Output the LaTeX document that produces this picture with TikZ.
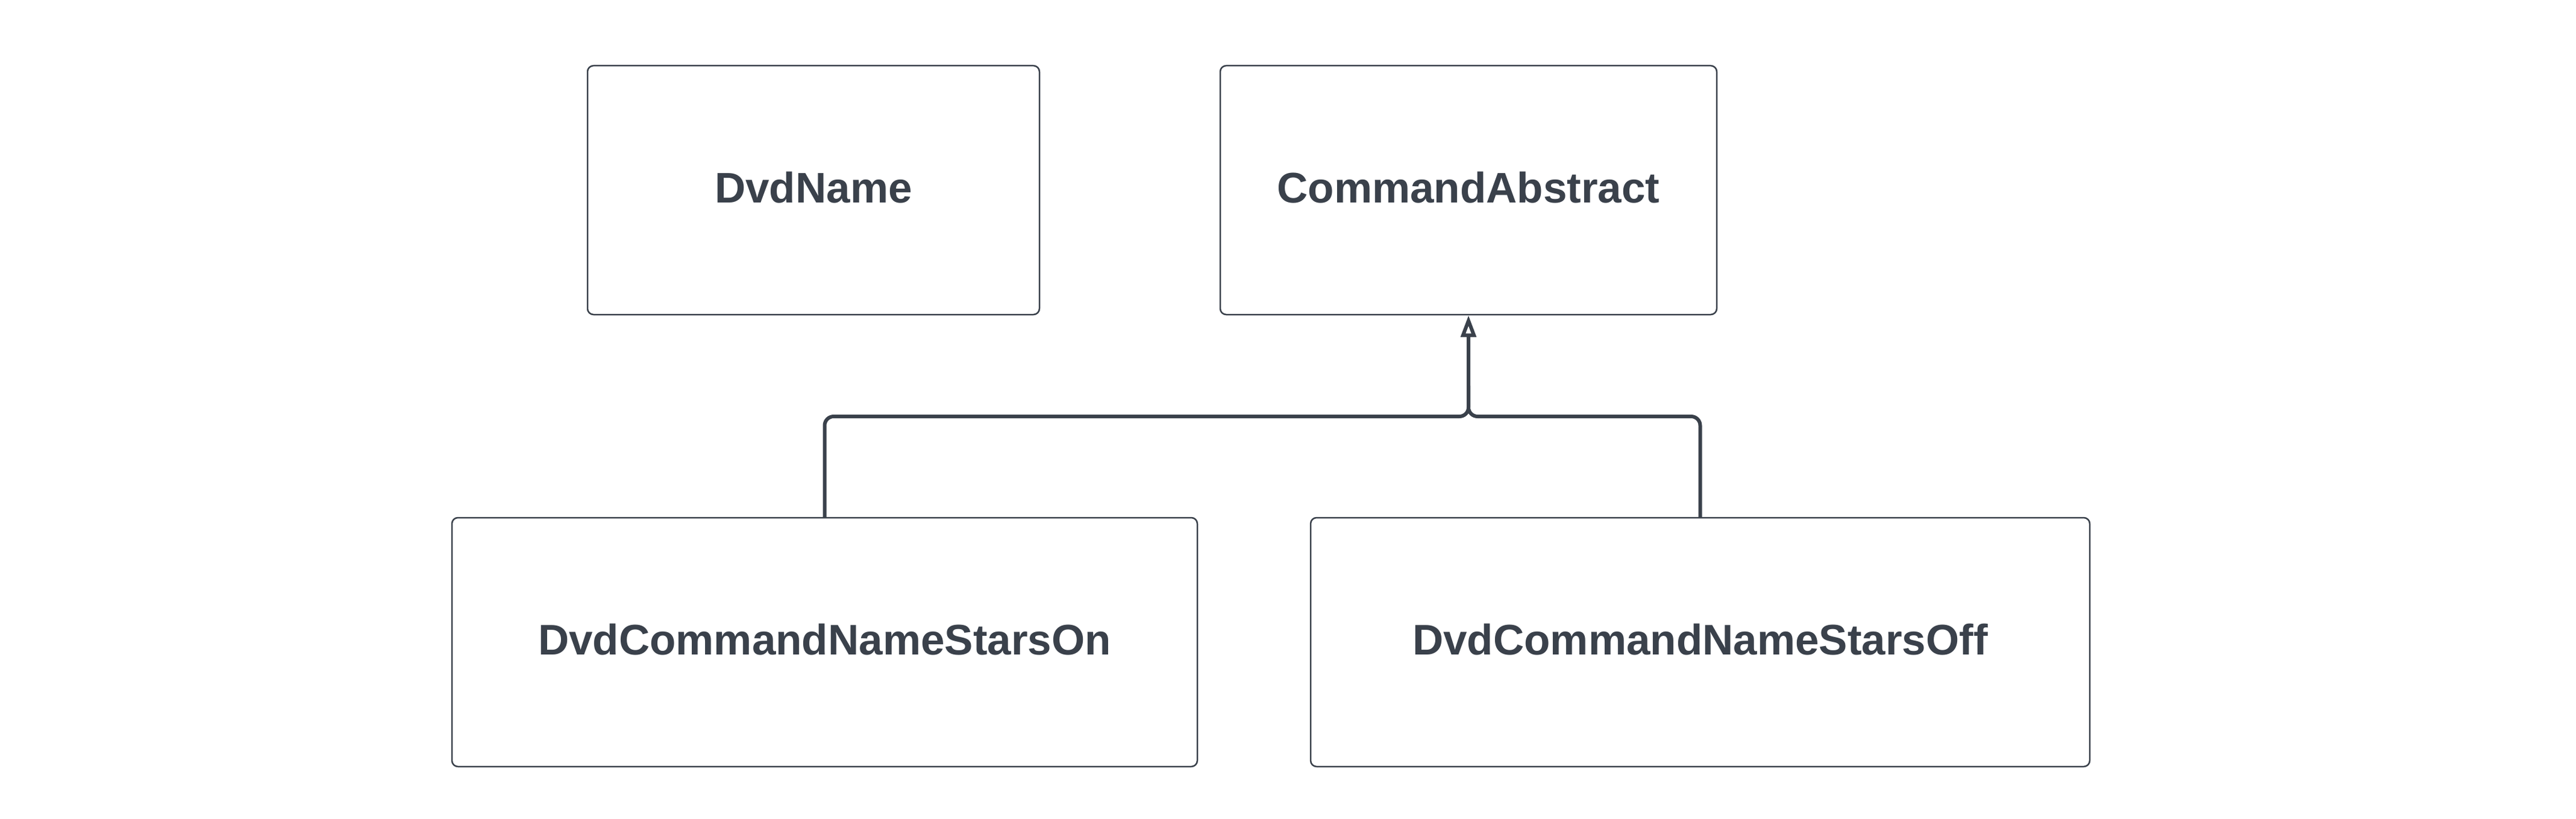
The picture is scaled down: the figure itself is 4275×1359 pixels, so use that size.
\documentclass[tikz,border=0pt]{standalone}
\usepackage{fontspec}
\setmainfont{Liberation Sans}
\usetikzlibrary{arrows.meta}
\definecolor{ink}{RGB}{58,65,75}
\begin{document}
\begin{tikzpicture}[x=1pt,y=-1pt,
  classbox/.style={draw=ink, line width=2.5pt, rounded corners=10pt, fill=white,
    inner sep=0pt, minimum height=413pt, text=ink, text height=52pt, text depth=10pt,
    font=\fontsize{71}{85}\selectfont\bfseries},
  inherit/.style={draw=ink, line width=6pt, rounded corners=15pt},
  hollowtip/.style={-{Triangle[open, length=36pt, width=25pt, line width=6pt]}}
]
\useasboundingbox[fill=white] (0,0) rectangle (4275,1359);
\node[classbox, minimum width=750pt] (dvd) at (1350,315.5) {DvdName};
\node[classbox, minimum width=824pt] (ca) at (2437,315.5) {CommandAbstract};
\node[classbox, minimum width=1237pt] (on) at (1368.5,1065.5) {DvdCommandNameStarsOn};
\node[classbox, minimum width=1293pt] (off) at (2821.5,1065.5) {DvdCommandNameStarsOff};
\coordinate (j) at (2437,691);
\coordinate (jt) at (2437,640);
\draw[inherit] (off.north) |- (j) -- (jt);
\draw[inherit, hollowtip] (on.north) |- (j) -- (ca.south);
\end{tikzpicture}
\end{document}
